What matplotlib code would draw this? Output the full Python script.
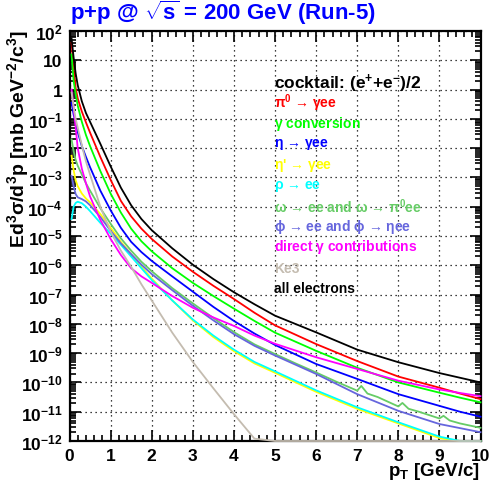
import numpy as np
import matplotlib
matplotlib.use("Agg")
import matplotlib.pyplot as plt
from matplotlib.ticker import MultipleLocator, FixedLocator, LogLocator, NullFormatter

plt.rcParams.update({
    "font.family": ["Liberation Sans", "DejaVu Sans"],
    "font.weight": "bold",
    "mathtext.fontset": "custom",
    "mathtext.rm": "Liberation Sans:bold",
    "mathtext.it": "Liberation Sans:bold",
    "mathtext.bf": "Liberation Sans:bold",
    "mathtext.default": "bf",
})

# ---- data: log10(Ed3sigma/d3p) ----
PT = [0.05, 0.1, 0.15, 0.2, 0.3, 0.4, 0.5, 0.75, 1.0, 1.25, 1.5, 1.75, 2.0, 2.5,
      3.0, 3.5, 4.0, 4.5, 5.0, 6.0, 7.0, 8.0, 9.0, 9.5, 10.0]

pi0 = [1.6, 0.75, 0.05, -0.3, -0.75, -1.12, -1.47, -2.3, -3.08, -3.8, -4.33, -4.75,
       -5.1, -5.7, -6.22, -6.7, -7.15, -7.62, -8.05, -8.69, -9.27, -9.8, -10.18,
       -10.38, -10.57]
gamma_conv = [1.2, 0.3, -0.15, -0.55, -1.1, -1.55, -1.93, -2.78, -3.55, -4.2, -4.75,
              -5.18, -5.52, -6.1, -6.6, -7.05, -7.48, -7.9, -8.3, -8.92, -9.5, -10.0,
              -10.35, -10.52, -10.68]
eta = [-0.45, -0.85, -1.15, -1.45, -1.93, -2.3, -2.65, -3.45, -4.12, -4.72, -5.2,
       -5.55, -5.85, -6.38, -6.9, -7.42, -7.9, -8.33, -8.72, -9.37, -9.88, -10.4,
       -10.8, -11.0, -11.17]
etap = [-2.26, -2.75, -3.1, -3.3, -3.55, -3.72, -3.85, -4.25, -4.72, -5.2, -5.62,
        -6.05, -6.45, -7.2, -7.88, -8.45, -8.93, -9.35, -9.67, -10.32, -10.9, -11.4,
        -11.9, -12.0, -12.0]
rho = [-4.42, -4.0, -3.87, -3.83, -3.88, -4.0, -4.15, -4.55, -4.92, -5.3, -5.7,
       -6.1, -6.5, -7.2, -7.85, -8.4, -8.88, -9.3, -9.62, -10.27, -10.85, -11.36,
       -11.85, -12.0, -12.0]
phi = [-2.95, -3.3, -3.57, -3.68, -3.74, -3.82, -3.95, -4.35, -4.82, -5.25, -5.62,
       -5.98, -6.3, -6.85, -7.38, -7.88, -8.35, -8.75, -9.08, -9.71, -10.4, -10.97,
       -11.42, -11.56, -11.7]
direct = [0.0, -0.6, -1.3, -2.0, -2.7, -3.2, -3.65, -4.45, -5.1, -5.65, -6.1, -6.38,
          -6.6, -7.05, -7.45, -7.78, -8.07, -8.4, -8.68, -9.14, -9.54, -9.94, -10.24,
          -10.36, -10.47]
ke3 = [-0.1, -0.6, -1.0, -1.3, -1.9, -2.45, -2.9, -4.0, -4.85, -5.5, -6.05, -6.65,
       -7.2, -8.3, -9.3, -10.2, -11.08, -11.92, -12.0, -12.0, -12.0, -12.0, -12.0,
       -12.0, -12.0]
all_e = [1.75, 1.1, 0.55, 0.15, -0.4, -0.8, -1.1, -1.85, -2.62, -3.35, -3.95, -4.42,
         -4.8, -5.42, -5.98, -6.47, -6.92, -7.33, -7.72, -8.29, -8.88, -9.31, -9.68,
         -9.84, -10.0]

# omega curve is a noisy MC histogram, so it gets its own grid
PT_OMEGA = [0.05, 0.1, 0.15, 0.2, 0.3, 0.4, 0.5, 0.75, 1.0, 1.25, 1.5, 1.75, 2.0,
            2.5, 3.0, 3.5, 4.0, 4.5, 5.0, 5.5, 6.0, 6.5, 7.0, 7.1, 7.25, 7.5, 8.0,
            8.1, 8.25, 8.5, 9.0, 9.1, 9.25, 9.5, 10.0]
omega = [-1.7, -2.1, -2.4, -2.6, -2.9, -3.2, -3.45, -4.05, -4.58, -5.08, -5.5, -5.88,
         -6.2, -6.78, -7.3, -7.8, -8.28, -8.7, -9.03, -9.35, -9.66, -9.98, -10.28,
         -10.12, -10.38, -10.5, -10.82, -10.7, -10.9, -11.0, -11.23, -11.14, -11.3,
         -11.4, -11.55]

Y_EXP = list(range(-12, 3))
Y_LABELS = [r"$10^{%d}$" % k for k in range(-12, 0)] + ["1", "10", r"$10^{2}$"]

LEGEND = [
    (r"$\pi^{0}$ → $\gamma$ee", "#ff0000"),
    (r"$\gamma$ conversion", "#00ff00"),
    (r"$\eta$ → $\gamma$ee", "#0000ff"),
    (r"$\eta$' → $\gamma$ee", "#ffff00"),
    (r"$\rho$ → ee", "#00ffff"),
    (r"$\omega$ → ee and $\omega$ → $\pi^{0}$ee", "#66cc66"),
    (r"$\phi$ → ee and $\phi$ → $\eta$ee", "#6666dd"),
    (r"direct $\gamma$ contributions", "#ff00ff"),
    ("Ke3", "#c4bcb0"),
    ("all electrons", "#000000"),
]

W, H = 490, 485
fig = plt.figure(figsize=(W / 100, H / 100), dpi=100)
ax = fig.add_axes([69.5 / W, 1 - 442 / H, 411 / W, 410 / H])

curves = [(PT, pi0), (PT, gamma_conv), (PT, eta), (PT, etap), (PT, rho),
          (PT_OMEGA, omega), (PT, phi), (PT, direct), (PT, ke3), (PT, all_e)]
for (x, ly), (_, col) in zip(curves, LEGEND):
    ax.plot(x, 10.0 ** np.array(ly), color=col, lw=1.3, zorder=3, clip_on=False)

ax.set_yscale("log")
ax.set_xlim(0, 10)
ax.set_ylim(1e-12, 1e2)

ax.xaxis.set_major_locator(MultipleLocator(1))
ax.xaxis.set_minor_locator(MultipleLocator(0.2))
ax.yaxis.set_major_locator(FixedLocator([10.0 ** k for k in Y_EXP]))
ax.yaxis.set_minor_locator(LogLocator(base=10, subs=np.arange(2, 10), numticks=30))
ax.yaxis.set_minor_formatter(NullFormatter())
ax.set_yticklabels(Y_LABELS)

ax.tick_params(which="both", direction="in", top=True, right=True, width=1.2)
ax.tick_params(which="major", length=8, labelsize=12.5, pad=5)
ax.tick_params(which="minor", length=4)
for s in ax.spines.values():
    s.set_linewidth(1.6)
ax.grid(True, which="major", color="black", ls=(0, (1, 3)), lw=0.9)

fig.text(70 / W, 1 - 13 / H, r"p+p @ $\sqrt{s}$ = 200 GeV (Run-5)",
         color="#0000ff", fontsize=16, va="center", ha="left")
fig.text(480 / W, 1 - 472 / H, r"p$_{T}$ [GeV/c]", fontsize=13.5,
         ha="right", va="center")
fig.text(18 / W, 1 - 30 / H, r"Ed$^{3}\sigma$/d$^{3}$p [mb GeV$^{-2}$/c$^{3}$]",
         fontsize=14, rotation=90, ha="center", va="top")

fig.text(274 / W, 1 - 84 / H, r"cocktail: (e$^{+}$+e$^{-}$)/2", fontsize=12.5,
         ha="left", va="center")
ys = [103, 124, 145, 166, 187, 207, 227, 247, 269, 289]
for (txt, col), y in zip(LEGEND, ys):
    fig.text(274 / W, 1 - y / H, txt, color=col, fontsize=10,
             ha="left", va="center")

fig.savefig("out.png", dpi=100)
